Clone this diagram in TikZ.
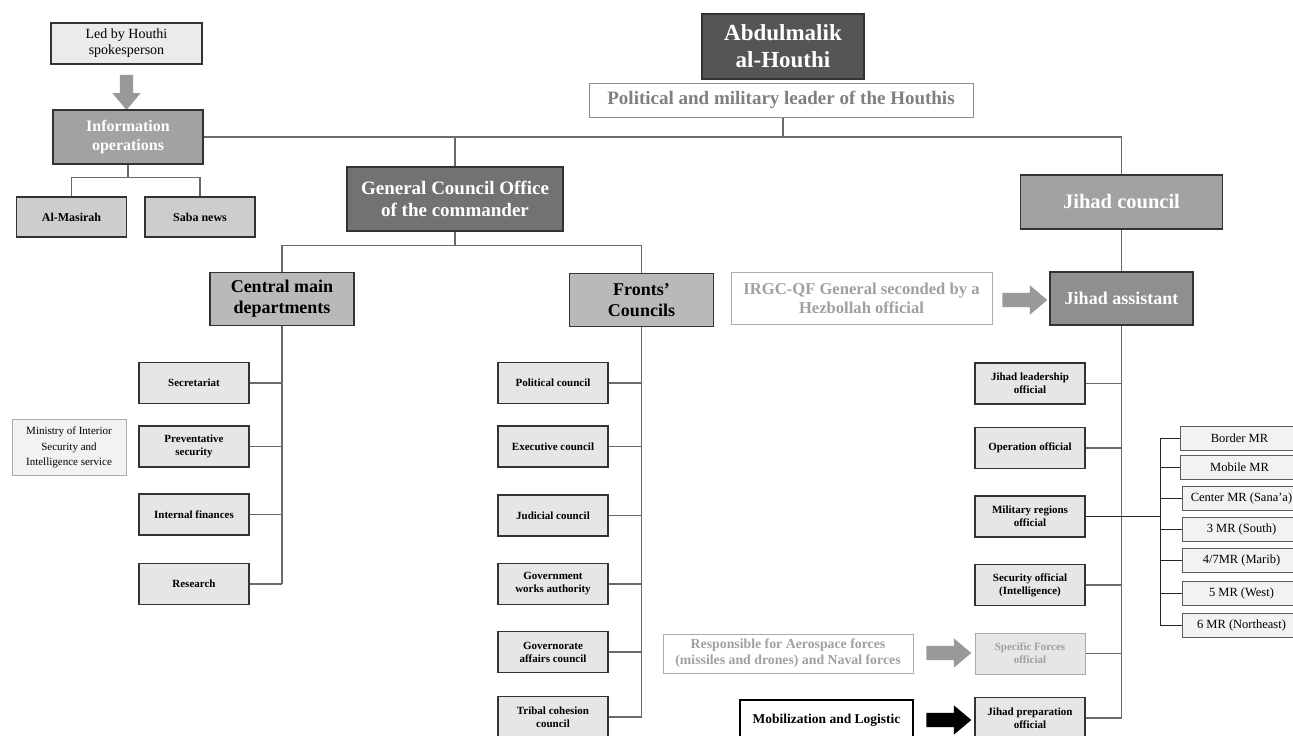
\documentclass[tikz,border=0pt]{standalone}
\usepackage{fontspec}
\setmainfont{Liberation Serif}
\usepackage{tikz}
\usetikzlibrary{positioning}
\usetikzlibrary{calc}
\usetikzlibrary{shapes}
\usetikzlibrary{shapes.arrows}

\definecolor{boxline}{HTML}{333333}
\definecolor{linkgray}{HTML}{6A6A6A}
\definecolor{darkfill}{HTML}{555555}
\definecolor{gcofill}{HTML}{727272}
\definecolor{midfill}{HTML}{A2A2A2}
\definecolor{jafill}{HTML}{8F8F8F}
\definecolor{deptfill}{HTML}{B9B9B9}
\definecolor{mediafill}{HTML}{CDCDCD}
\definecolor{unitfill}{HTML}{E6E6E6}
\definecolor{palefill}{HTML}{F2F2F2}
\definecolor{fadeline}{HTML}{ABABAB}
\definecolor{fadetext}{HTML}{A0A0A0}
\definecolor{roletext}{HTML}{7F7F7F}
\definecolor{arrowgray}{HTML}{999999}

\newcommand{\fsz}[2]{\fontsize{#1}{#2}\selectfont}

\begin{document}
\begin{tikzpicture}[x=1pt,y=-1pt,
  box/.style={draw=boxline,line width=1.3pt,inner sep=0pt,align=center},
  darkbox/.style={box,fill=darkfill,text=white},
  midbox/.style={box,fill=midfill,text=white},
  deptbox/.style={box,fill=deptfill,minimum width=144pt,minimum height=53pt,font=\bfseries\fsz{18}{21}},
  mediabox/.style={box,fill=mediafill,minimum width=110pt,minimum height=40pt,font=\bfseries\fsz{12}{14}},
  unit/.style={box,fill=unitfill,minimum width=110pt,minimum height=41pt,font=\bfseries\fsz{11}{13}},
  fadebox/.style={draw=fadeline,line width=1pt,fill=white,text=fadetext,inner sep=0pt,align=center},
  mrbox/.style={draw=boxline!80,line width=0.9pt,fill=palefill,inner sep=0pt,minimum width=118pt,minimum height=24pt,font=\fsz{12.5}{14}},
  link/.style={draw=linkgray,line width=1.3pt},
  mrlink/.style={draw=black!85,line width=0.9pt},
  blockarrow/.style={single arrow,draw=none,inner xsep=0pt,inner ysep=7pt,single arrow head extend=7.5pt,single arrow tip angle=80,minimum height=45pt}
]

\useasboundingbox (0,0) rectangle (1293,736);

%TOP
\node[darkbox,minimum width=162pt,minimum height=65pt,font=\bfseries\fsz{23}{27}](AH-box)at(783,46.5){Abdulmalik\\al-Houthi};
\node[box,draw=roletext!90,line width=1pt,fill=white,text=roletext,minimum width=384pt,minimum height=34pt,font=\bfseries\fsz{19}{22}](PML-label)at(781,100){Political and military leader of the Houthis};

%LEFT
\node[box,fill=unitfill!80,minimum width=151pt,minimum height=41pt,font=\fsz{14}{16}](LHS-label)at(126.5,43.5){Led by Houthi\\spokesperson};
\node[blockarrow,fill=arrowgray,rotate=-90,minimum height=35pt,inner ysep=6.5pt](LHS-arrow)at(126.5,88.5){};
\node[midbox,minimum width=150pt,minimum height=54pt,font=\bfseries\fsz{16}{19}](IO-box)at(128,137){Information\\operations};
\node[mediabox](AM-box)at(71.5,217){Al-Masirah};
\node[mediabox](SN-box)at(200,217){Saba news};

%CENTER
\node[darkbox,fill=gcofill,minimum width=216pt,minimum height=64pt,font=\bfseries\fsz{19}{22}](GCO-box)at(455,199){General Council Office\\of the commander};
\node[deptbox](CMD-box)at(282,299){Central main\\departments};
\node[deptbox](FC-box)at(641.5,300){Fronts'\\Councils};

\node[unit](SEC-box)at(194,383){Secretariat};
\node[unit](PS-box)at(194,446.5){Preventative\\security};
\node[unit](IF-box)at(194,514.5){Internal finances};
\node[unit](RES-box)at(194,584){Research};
\node[box,draw=fadeline,line width=1pt,fill=palefill,minimum width=114pt,minimum height=56pt,font=\fsz{11}{15}](MOI-label)at(69,447){Ministry of Interior\\[1pt]Security and\\Intelligence service};

\node[unit](POL-box)at(553,383){Political council};
\node[unit](EXE-box)at(553,446.5){Executive council};
\node[unit](JUD-box)at(553,515.5){Judicial council};
\node[unit](GWA-box)at(553,584){Government\\works authority};
\node[unit](GAC-box)at(553,652){Governorate\\affairs council};
\node[unit](TCC-box)at(553,717){Tribal cohesion\\council};

%RIGHT
\node[midbox,minimum width=202pt,minimum height=54pt,font=\bfseries\fsz{20.5}{24}](JC-box)at(1121.5,202){Jihad council};
\node[fadebox,minimum width=261pt,minimum height=52pt,font=\bfseries\fsz{16.6}{19}](IRGC-label)at(861.5,298){IRGC-QF General seconded by a\\Hezbollah official};
\node[blockarrow,fill=arrowgray](IRGC-arrow)at(1020.5,300){};
\node[midbox,fill=jafill,minimum width=143pt,minimum height=53pt,font=\bfseries\fsz{18}{21}](JA-box)at(1121.5,298.5){Jihad assistant};

\node[unit](JLO-box)at(1030,383.5){Jihad leadership\\official};
\node[unit](OPO-box)at(1030,448){Operation official};
\node[unit](MRO-box)at(1030,516.5){Military regions\\official};
\node[unit](SEO-box)at(1030,585){Security official\\(Intelligence)};
\node[unit,draw=fadeline,line width=1pt,text=fadetext](SFO-box)at(1030,653.5){Specific Forces\\official};
\node[unit](JPO-box)at(1030,718){Jihad preparation\\official};

\node[fadebox,minimum width=250pt,minimum height=39pt,font=\bfseries\fsz{13.8}{16}](RAF-label)at(788,653.5){Responsible for Aerospace forces\\(missiles and drones) and Naval forces};
\node[blockarrow,fill=arrowgray](RAF-arrow)at(944.5,653){};
\node[box,fill=white,draw=black,minimum width=173pt,minimum height=40pt,font=\bfseries\fsz{13.5}{16}](ML-label)at(826.5,720){Mobilization and Logistic};
\node[blockarrow,fill=black](ML-arrow)at(944.5,720){};

%MR boxes
\node[mrbox](MR1-box)at(1239.5,438.5){Border MR};
\node[mrbox](MR2-box)at(1239.5,467.5){Mobile MR};
\node[mrbox](MR3-box)at(1241.5,498){Center MR (Sana'a)};
\node[mrbox](MR4-box)at(1241.5,529){3 MR (South)};
\node[mrbox](MR5-box)at(1241.5,560){4/7MR (Marib)};
\node[mrbox](MR6-box)at(1241.5,593){5 MR (West)};
\node[mrbox](MR7-box)at(1241.5,625.5){6 MR (Northeast)};
\coordinate(MR-bus)at(1160,438.5);

%LINKs
\draw[link](IO-box.east) -| (JC-box.north);
\draw[link](PML-label.south -| AH-box) -- (AH-box |- IO-box.east);
\draw[link](GCO-box.north) -- (GCO-box |- IO-box.east);
\draw[link](IO-box.south) -- ++(0,13) coordinate(IO-fork);
\draw[link](AM-box.north) |- (IO-fork) -| (SN-box.north);
\draw[link](GCO-box.south) -- ++(0,14) coordinate(GCO-fork);
\draw[link](CMD-box.north) |- (GCO-fork) -| (FC-box.north);
\draw[link](JC-box.south) -- (JA-box.north);

\draw[link](CMD-box.south) -- (CMD-box.south |- RES-box.east);
\foreach \u in {SEC,PS,IF,RES}
  \draw[link](\u-box.east) -- (\u-box.east -| CMD-box.south);
\draw[link](FC-box.south) -- (FC-box.south |- TCC-box.east);
\foreach \u in {POL,EXE,JUD,GWA,GAC,TCC}
  \draw[link](\u-box.east) -- (\u-box.east -| FC-box.south);
\draw[link](JA-box.south) -- (JA-box.south |- JPO-box.east);
\foreach \u in {JLO,OPO,MRO,SEO,SFO,JPO}
  \draw[link](\u-box.east) -- (\u-box.east -| JA-box.south);

\draw[mrlink](MRO-box.east) -- (MRO-box.east -| MR-bus);
\draw[mrlink](MR1-box.west) -- (MR-bus) |- (MR7-box.west);
\foreach \m in {MR2,MR3,MR4,MR5,MR6}
  \draw[mrlink](\m-box.west) -- (\m-box.west -| MR-bus);

\end{tikzpicture}
\end{document}
